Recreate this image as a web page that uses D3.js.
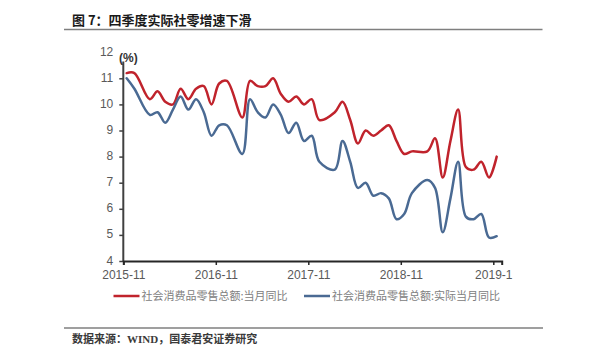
<!DOCTYPE html>
<html>
<head>
<meta charset="utf-8">
<script src="https://cdn.jsdelivr.net/npm/d3@7"></script>
<style>
  html, body { margin: 0; padding: 0; background: #fff; }
  svg { display: block; }
</style>
</head>
<body>
<svg id="chart" width="600" height="357"></svg>
<script>
// ---- data (month index 0 = 2015-11; January values are reported jointly with February, so null) ----
const months = ["2015-11","2015-12","2016-01","2016-02","2016-03","2016-04","2016-05","2016-06","2016-07","2016-08","2016-09","2016-10",
  "2016-11","2016-12","2017-01","2017-02","2017-03","2017-04","2017-05","2017-06","2017-07","2017-08","2017-09","2017-10",
  "2017-11","2017-12","2018-01","2018-02","2018-03","2018-04","2018-05","2018-06","2018-07","2018-08","2018-09","2018-10",
  "2018-11","2018-12","2019-01","2019-02","2019-03","2019-04","2019-05","2019-06","2019-07","2019-08","2019-09","2019-10","2019-11"];
const nominal = [11.2,11.2,null,10.2,10.5,10.1,10.0,10.6,10.2,10.6,10.7,10.0,
  10.8,10.9,null,9.5,10.9,10.7,10.7,11.0,10.4,10.1,10.3,10.0,
  10.2,9.4,null,9.7,10.1,9.4,8.5,9.0,8.8,9.0,9.2,8.6,
  8.1,8.2,null,8.2,8.7,7.2,8.6,9.8,7.6,7.5,7.8,7.2,8.0];
const real = [11.0,10.6,null,9.6,9.7,9.3,9.8,10.3,9.8,10.2,9.7,8.8,
  9.2,9.2,null,8.1,10.2,9.7,9.5,10.0,9.6,8.9,9.3,8.6,
  8.8,7.8,null,7.5,8.6,7.8,6.8,7.0,6.5,6.6,6.4,5.6,
  5.8,6.6,null,7.1,6.8,5.1,6.4,7.8,5.7,5.6,5.8,4.9,4.95];
const seriesNames = ["社会消费品零售总额:当月同比", "社会消费品零售总额:实际当月同比"];
const seriesColors = ["#c0232c", "#4a6a93"];
const xTickIndex = [0, 12, 24, 36, 48];
const xTickLabels = ["2015-11", "2016-11", "2017-11", "2018-11", "2019-1"];
const yTicks = [4, 5, 6, 7, 8, 9, 10, 11, 12];
const titleText = "图 7：四季度实际社零增速下滑";
const sourceText = "数据来源：WIND，国泰君安证券研究";
const unitText = "(%)";

// ---- layout ----
const svg = d3.select("#chart");
const plotLeft = 123.3, plotBottom = 261;
const x = d3.scaleLinear().domain([0, 49.09]).range([plotLeft, 501.7]);
const y = d3.scaleLinear().domain([4, 12]).range([plotBottom, 52.2]);
const pointOffset = 0.44;

// title + rules
svg.append("text").attr("x", 72).attr("y", 25)
  .attr("font-family", "'Noto Sans CJK SC', sans-serif").attr("font-weight", 700)
  .attr("font-size", 13).attr("fill", "#1a1a1a").text(titleText);
svg.append("line").attr("x1", 64).attr("x2", 542.5).attr("y1", 29.5).attr("y2", 29.5)
  .attr("stroke", "#7f7f7f").attr("stroke-width", 1.6);
svg.append("line").attr("x1", 64).attr("x2", 543).attr("y1", 328).attr("y2", 328)
  .attr("stroke", "#7f7f7f").attr("stroke-width", 1.4);
svg.append("text").attr("x", 72).attr("y", 343)
  .attr("font-family", "'Liberation Serif', 'Noto Sans CJK SC', serif").attr("font-weight", 700)
  .attr("font-size", 11).attr("fill", "#3a3a3a").text(sourceText);

// y axis
const yAxis = d3.axisLeft(y).tickValues(yTicks).tickSize(4).tickPadding(6).tickFormat(d3.format("d"));
const gy = svg.append("g").attr("transform", `translate(${plotLeft},0)`).call(yAxis);
gy.select(".domain").remove();
gy.selectAll(".tick line").attr("stroke", "#404040").attr("stroke-width", 1.5)
  .filter(d => d === 12).remove();
gy.selectAll(".tick text").attr("font-family", "'Liberation Sans', Arial, sans-serif")
  .attr("font-size", 12).attr("fill", "#595959").attr("dy", "0.25em");
svg.append("line").attr("x1", plotLeft).attr("x2", plotLeft).attr("y1", 61.5).attr("y2", plotBottom)
  .attr("stroke", "#404040").attr("stroke-width", 2);

// unit
svg.append("text").attr("x", 119).attr("y", 62)
  .attr("font-family", "'Liberation Sans', Arial, sans-serif").attr("font-weight", 700)
  .attr("font-size", 12).attr("fill", "#333").text(unitText);

// x axis
const xAxis = d3.axisBottom(x).tickValues(xTickIndex).tickSize(4).tickPadding(5.5)
  .tickFormat((d, i) => xTickLabels[i]);
const gx = svg.append("g").attr("transform", `translate(0,${plotBottom})`).call(xAxis);
gx.select(".domain").attr("stroke", "#262626").attr("stroke-width", 2);
gx.selectAll(".tick line").attr("stroke", "#262626").attr("stroke-width", 1.5);
gx.selectAll(".tick text").attr("font-family", "'Liberation Sans', Arial, sans-serif")
  .attr("font-size", 12).attr("fill", "#595959");

// lines
const line = d3.line()
  .x(d => x(d.i + pointOffset))
  .y(d => y(d.v))
  .curve(d3.curveCatmullRom.alpha(0.5));
[nominal, real].forEach((vals, k) => {
  const pts = vals.map((v, i) => ({ i, v, m: months[i] })).filter(d => d.v != null);
  svg.append("path").datum(pts).attr("d", line)
    .attr("fill", "none").attr("stroke", seriesColors[k]).attr("stroke-width", 2.5)
    .attr("stroke-linejoin", "round").attr("stroke-linecap", "round");
});

// legend
const legendX = [113.5, 304];
seriesNames.forEach((name, k) => {
  const g = svg.append("g").attr("transform", `translate(${legendX[k]},296)`);
  g.append("line").attr("x1", 0).attr("x2", 26).attr("y1", 0).attr("y2", 0)
    .attr("stroke", seriesColors[k]).attr("stroke-width", 2.5);
  g.append("text").attr("x", 28).attr("y", 4)
    .attr("font-family", "'Noto Sans CJK SC', sans-serif").attr("font-size", 11)
    .attr("fill", "#808080").text(name);
});
</script>
</body>
</html>
